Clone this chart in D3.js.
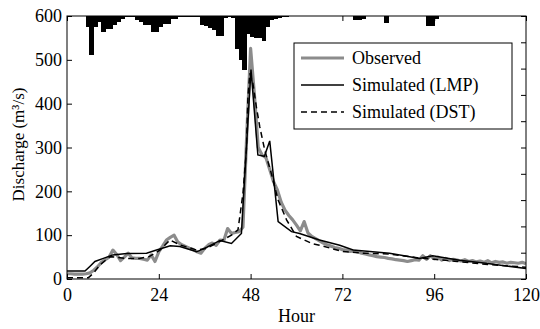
<!DOCTYPE html>
<html>
<head>
<meta charset="utf-8">
<script src="https://cdn.jsdelivr.net/npm/d3@7"></script>
<style>
  html, body { margin: 0; padding: 0; background: #fff; }
  text { font-family: "Liberation Serif", "Times New Roman", serif; fill: #000; }
</style>
</head>
<body>
<div id="chart"></div>
<script>
// Hourly rainfall (mm), bar i spans hour i..i+1, hung from the top axis
const rainHours = d3.range(0, 120);
const rainfall = [
  0, 0, 0, 0, 0, 2.1, 7.4, 2.1, 1.1, 3.0,
  2.5, 2.5, 1.7, 1.1, 0.6, 0.2, 0.2, 0.2, 0.8, 1.1,
  1.7, 1.7, 3.0, 3.0, 2.1, 1.5, 1.5, 0.6, 0.6, 0.2,
  0.2, 0.2, 0.2, 0.2, 0.2, 1.7, 1.9, 2.3, 2.7, 3.8,
  3.8, 0.4, 0.2, 0.4, 6.3, 8.4, 10.3, 3.4, 4.0, 4.2,
  4.2, 4.8, 2.1, 0.8, 0.6, 0.4, 0.2, 0.2, 0, 0,
  0, 0, 0, 0, 0, 0, 0, 0, 0, 0,
  0, 0, 0, 0, 0, 0.8, 0.8, 0.6, 0, 0,
  0, 0, 0, 1.3, 0, 0, 0, 0, 0, 0,
  0, 0, 0, 0, 1.9, 1.9, 0.6, 0, 0, 0,
  0, 0, 0, 0, 0, 0, 0, 0, 0, 0,
  0, 0, 0, 0, 0, 0, 0, 0, 0, 0
];

// Observed discharge (m3/s), hourly 0..120
const obsHours = d3.range(0, 121);
const observed = [
  12, 12, 11, 11, 11, 12, 14, 20, 28, 38,
  44, 50, 66, 56, 42, 50, 59, 48, 47, 47,
  45, 43, 55, 40, 62, 75, 89, 95, 100, 84,
  78, 74, 70, 67, 62, 59, 70, 78, 82, 77,
  89, 88, 115, 104, 106, 108, 118, 330, 526, 420,
  300, 283, 277, 250, 222, 203, 175, 157, 145, 135,
  123, 110, 131, 105, 97, 92, 87, 82, 78, 75,
  72, 70, 67, 66, 63, 64, 62, 59, 57, 55,
  53, 51, 50, 49, 47, 46, 44, 43, 42, 40,
  42, 44, 43, 53, 45, 53, 46, 50, 43, 47,
  42, 45, 43, 41, 44, 40, 42, 39, 41, 38,
  42, 37, 40, 38, 39, 36, 38, 37, 36, 38,
  35
];

// Simulated (LMP)
const lmpHours = [0, 4.7, 5.9, 7.3, 9.5, 12, 15.6, 20.8, 23.4, 27, 29.5, 33.9, 36.5, 40, 43, 45.6,
  48.1, 49.9, 51.6, 53, 55.2, 58.7, 60.8, 66, 71.3, 74.8, 84.3, 92.1, 95.6, 102.6, 109.5, 120];
const lmp = [18, 18, 28, 40, 47, 55, 58, 59, 66, 76, 74, 62, 72, 88, 81, 104,
  478, 283, 280, 315, 131, 108, 104, 89, 77, 66, 59, 47, 53, 43, 36, 24];

// Simulated (DST)
const dstHours = [0, 5.6, 6.9, 8.6, 11.2, 15.6, 19, 21.5, 24.3, 26.9, 29.5, 33.9, 36.5, 40, 43, 44.7,
  46, 46.9, 47.3, 47.8, 48.6, 49.5, 50.4, 51.7, 53.4, 55.2, 57.4, 60, 64.3, 66, 72, 77.3, 84.3,
  92, 96, 102, 110, 120];
const dst = [3, 3, 13, 32, 51, 47, 47, 51, 66, 89, 78, 66, 70, 86, 100, 112,
  195, 294, 416, 469, 446, 393, 347, 294, 241, 180, 135, 97, 80, 77, 63, 59, 57,
  48, 45, 40, 33, 27];

const xTicks = [0, 24, 48, 72, 96, 120];
const yTicks = [0, 100, 200, 300, 400, 500, 600];
const rainTicks = d3.range(0, 55, 5);
const legendLabels = ['Observed', 'Simulated (LMP)', 'Simulated (DST)'];

const width = 540, height = 329;
const margin = { top: 16, right: 14, bottom: 50, left: 67 };
const innerW = width - margin.left - margin.right;
const innerH = height - margin.top - margin.bottom;

const svg = d3.select('#chart').append('svg').attr('width', width).attr('height', height);
const g = svg.append('g').attr('transform', `translate(${margin.left},${margin.top})`);

const x = d3.scaleLinear().domain([0, 120]).range([0, innerW]);
const y = d3.scaleLinear().domain([0, 600]).range([innerH, 0]);
const yRain = d3.scaleLinear().domain([0, 50]).range([0, innerH]);

g.append('defs').append('clipPath').attr('id', 'clip')
  .append('rect').attr('width', innerW).attr('height', innerH);

const plot = g.append('g').attr('clip-path', 'url(#clip)');

// rainfall bars (contiguous columns)
plot.selectAll('rect.rain')
  .data(rainHours.map((h, i) => ({ h, v: rainfall[i] })).filter((d) => d.v > 0))
  .enter()
  .append('rect')
  .attr('class', 'rain')
  .attr('x', (d) => Math.floor(x(d.h)))
  .attr('y', 0)
  .attr('width', (d) => Math.ceil(x(d.h + 1)) - Math.floor(x(d.h)))
  .attr('height', (d) => yRain(d.v))
  .attr('shape-rendering', 'crispEdges')
  .attr('fill', '#000');

const line = d3.line().x((d) => x(d[0])).y((d) => y(d[1]));

plot.append('path')
  .datum(obsHours.map((h, i) => [h, observed[i]]))
  .attr('fill', 'none').attr('stroke', '#8c8c8c').attr('stroke-width', 3.2)
  .attr('stroke-linejoin', 'round')
  .attr('d', line);

plot.append('path')
  .datum(lmpHours.map((h, i) => [h, lmp[i]]))
  .attr('fill', 'none').attr('stroke', '#000').attr('stroke-width', 1.5)
  .attr('d', line);

plot.append('path')
  .datum(dstHours.map((h, i) => [h, dst[i]]))
  .attr('fill', 'none').attr('stroke', '#000').attr('stroke-width', 1.5)
  .attr('stroke-dasharray', '6,4')
  .attr('d', line);

// axes, MATLAB style: ticks pointing inward, box around
const fontSize = '18px';
const bottom = g.append('g').attr('transform', `translate(0,${innerH})`)
  .call(d3.axisBottom(x).tickValues(xTicks).tickSize(-5).tickPadding(9));
const left = g.append('g')
  .call(d3.axisLeft(y).tickValues(yTicks).tickSize(-5).tickPadding(5));
g.append('g')
  .call(d3.axisTop(x).tickValues(xTicks).tickSize(-5).tickFormat(''));
g.append('g').attr('transform', `translate(${innerW},0)`)
  .call(d3.axisRight(yRain).tickValues(rainTicks).tickSize(-5).tickFormat(''));

g.selectAll('.domain').remove();
g.selectAll('.tick line').attr('stroke', '#000');
[bottom, left].forEach((a) => a.selectAll('text')
  .style('font-family', '"Liberation Serif", serif').style('font-size', fontSize).attr('fill', '#000'));

g.append('rect').attr('width', innerW).attr('height', innerH)
  .attr('fill', 'none').attr('stroke', '#000').attr('stroke-width', 1);

// axis labels
svg.append('text')
  .attr('x', margin.left + innerW / 2).attr('y', 322)
  .attr('text-anchor', 'middle').style('font-size', fontSize)
  .text('Hour');

svg.append('text')
  .attr('transform', `translate(24, ${margin.top + innerH / 2 - 3}) rotate(-90)`)
  .attr('text-anchor', 'middle').style('font-size', '17px')
  .text('Discharge (m³/s)');

// legend
const lg = g.append('g').attr('transform', `translate(${294 - margin.left},${43 - margin.top})`);
lg.append('rect').attr('width', 218).attr('height', 86)
  .attr('fill', '#fff').attr('stroke', '#000').attr('stroke-width', 1);
const styles = [
  { stroke: '#8c8c8c', w: 3.2, dash: null },
  { stroke: '#000', w: 1.5, dash: null },
  { stroke: '#000', w: 1.5, dash: '6,4' }
];
legendLabels.forEach((label, i) => {
  const cy = 15 + i * 27;
  lg.append('line').attr('x1', 7).attr('x2', 50).attr('y1', cy).attr('y2', cy)
    .attr('stroke', styles[i].stroke).attr('stroke-width', styles[i].w)
    .attr('stroke-dasharray', styles[i].dash);
  lg.append('text').attr('x', 58).attr('y', cy + 6).style('font-size', fontSize).text(label);
});
</script>
</body>
</html>
